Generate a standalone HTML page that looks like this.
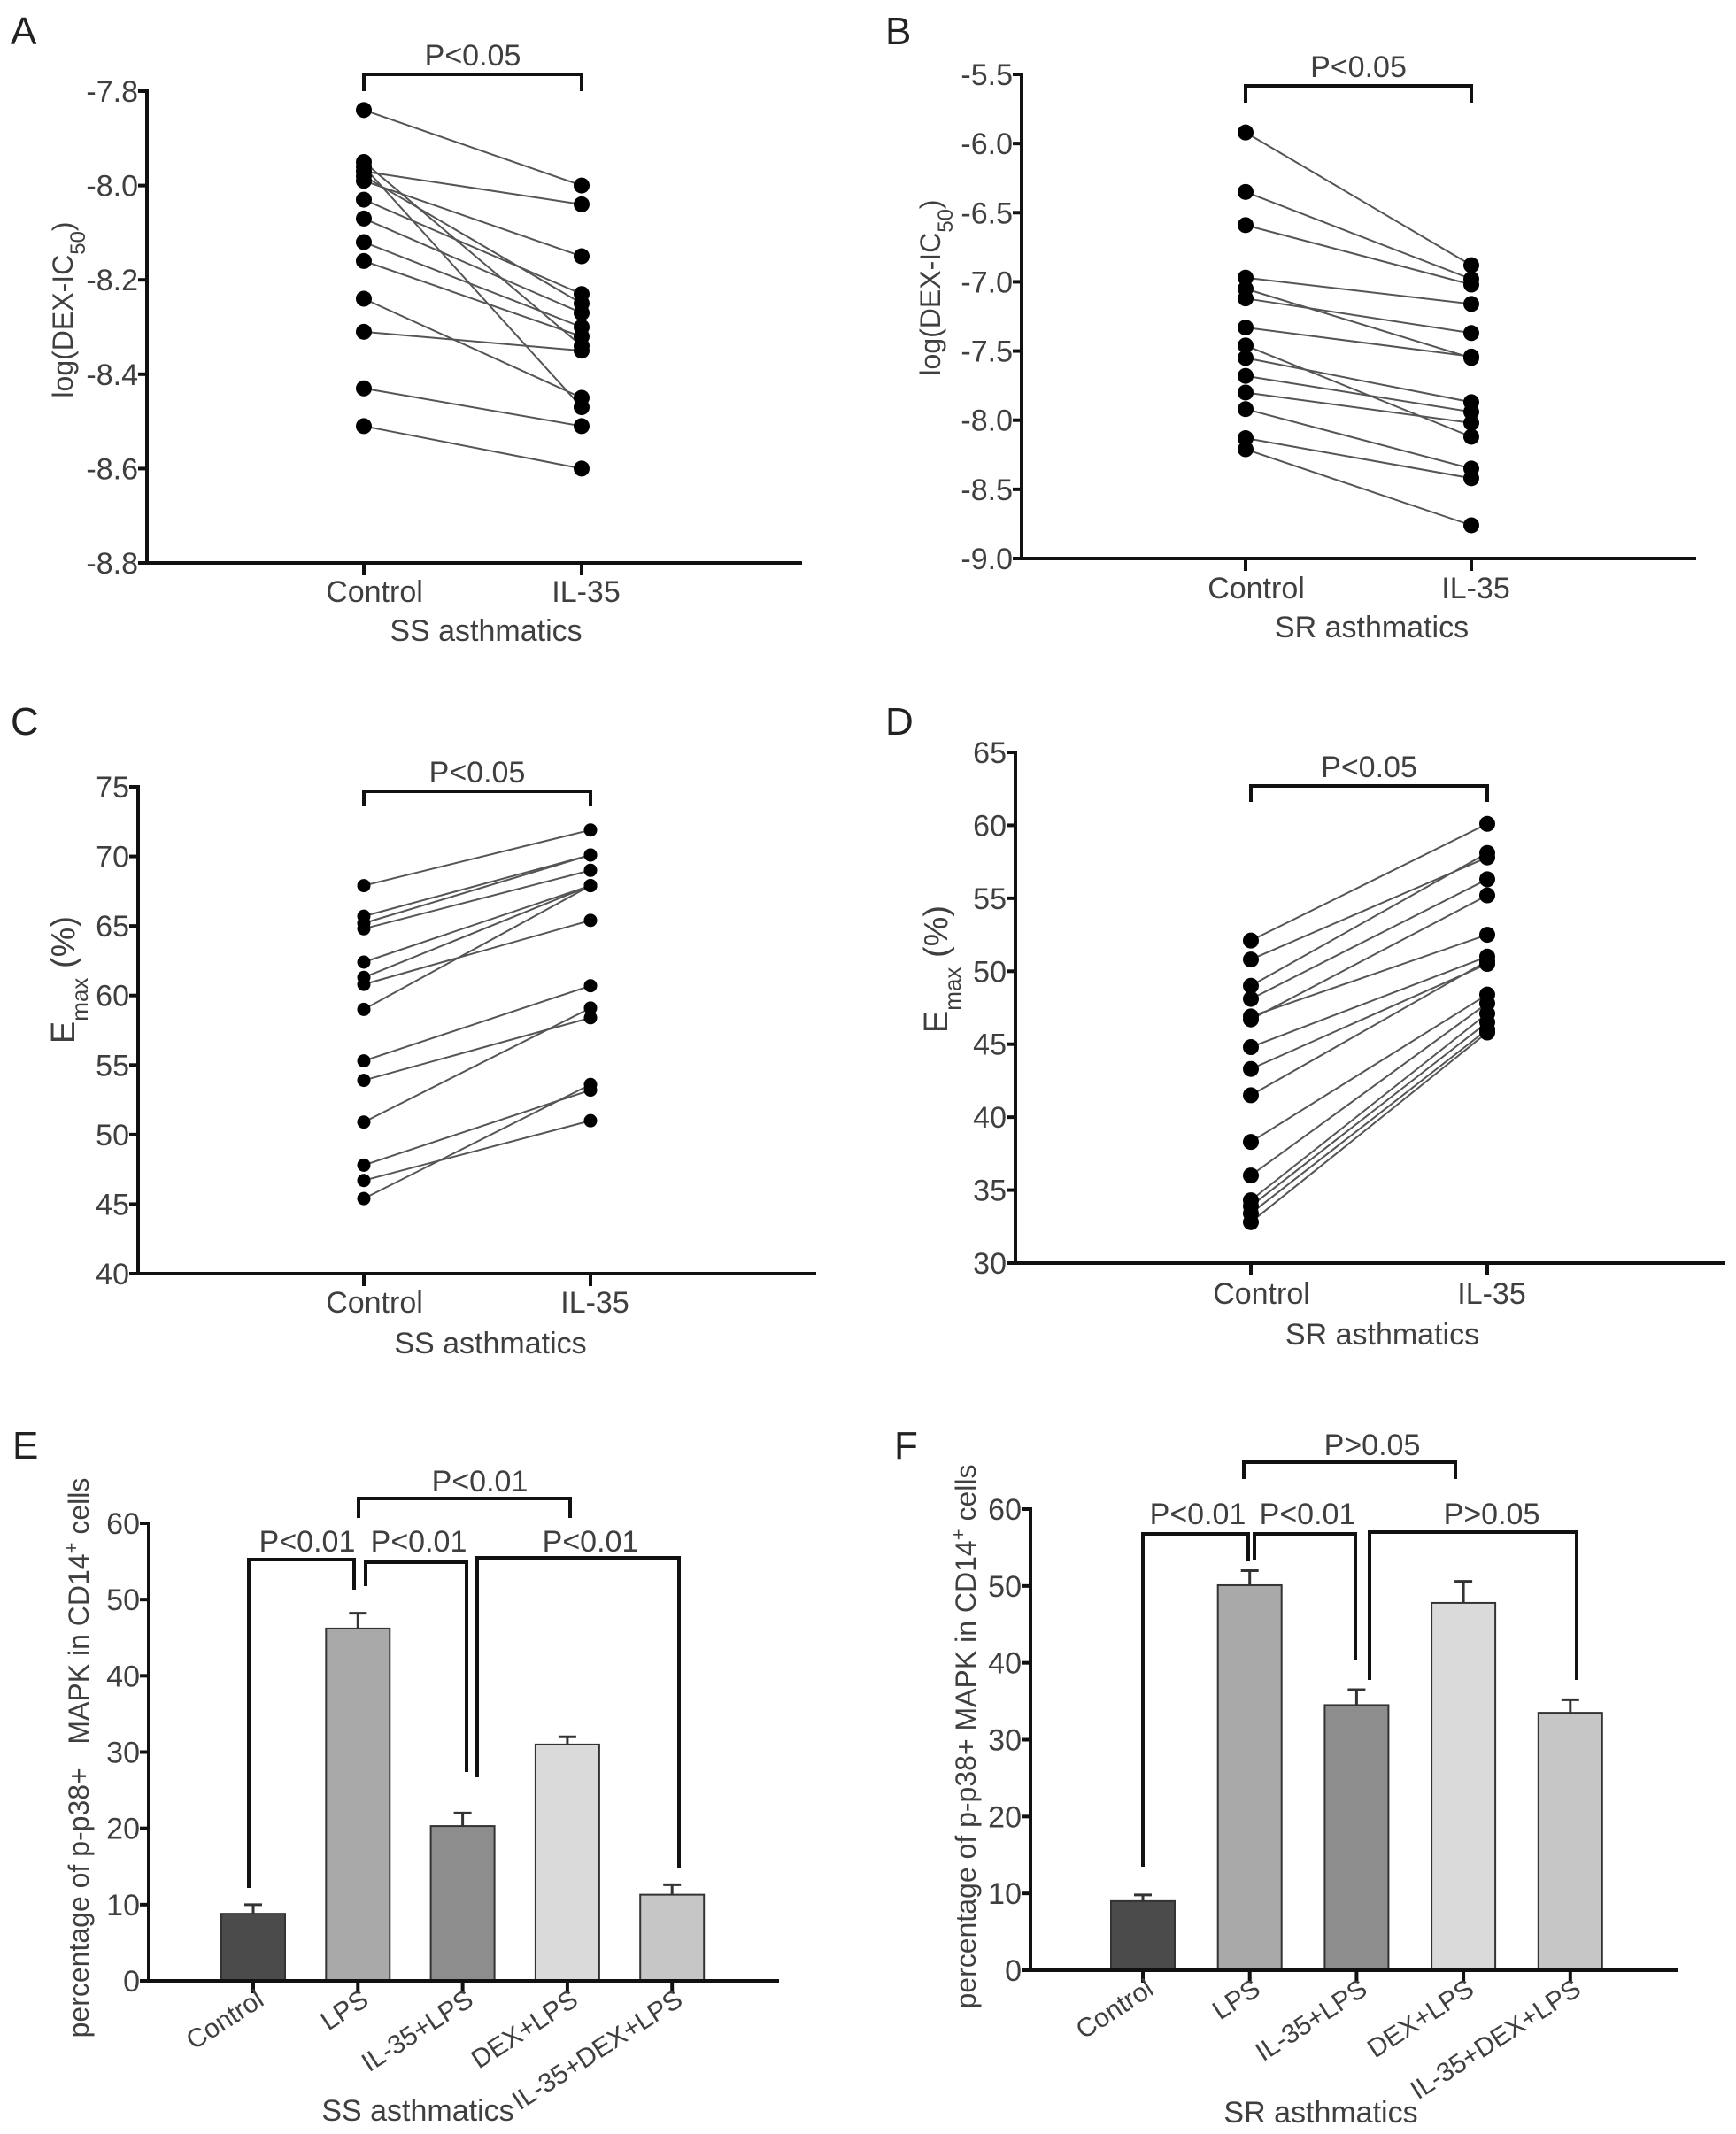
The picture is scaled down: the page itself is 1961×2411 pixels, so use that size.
<!DOCTYPE html>
<html><head><meta charset="utf-8"><style>
html,body{margin:0;padding:0;background:#fff;}
svg{display:block;font-family:"Liberation Sans",Arial,sans-serif;}
</style></head><body>
<svg id="fig" width="1961" height="2411" viewBox="0 0 1961 2411" xmlns="http://www.w3.org/2000/svg"></svg>
<script>
// ---- Panel A data (SS asthmatics, log DEX-IC50)
const aControl=[-7.84,-7.97,-7.95,-7.96,-7.98,-7.99,-8.03,-8.07,-8.12,-8.16,-8.24,-8.31,-8.43,-8.51];
const aIL35=[-8.00,-8.04,-8.34,-8.47,-8.25,-8.15,-8.23,-8.27,-8.30,-8.32,-8.45,-8.35,-8.51,-8.60];
const aTicks=[-7.8,-8.0,-8.2,-8.4,-8.6,-8.8];
// ---- Panel B data (SR asthmatics, log DEX-IC50)
const bControl=[-5.92,-6.35,-6.59,-6.97,-7.05,-7.12,-7.33,-7.46,-7.55,-7.68,-7.80,-7.92,-8.13,-8.21];
const bIL35=[-6.88,-6.98,-7.02,-7.16,-7.55,-7.37,-7.54,-8.12,-7.87,-7.94,-8.02,-8.35,-8.42,-8.76];
const bTicks=[-5.5,-6.0,-6.5,-7.0,-7.5,-8.0,-8.5,-9.0];
// ---- Panel C data (SS asthmatics, Emax)
const cControl=[67.9,65.7,65.2,64.8,62.4,61.3,60.8,59.0,55.3,53.9,50.9,47.8,46.7,45.4];
const cIL35=[71.9,70.1,70.1,69.0,67.9,67.9,65.4,67.9,60.7,58.4,59.1,53.2,51.0,53.6];
const cTicks=[75,70,65,60,55,50,45,40];
// ---- Panel D data (SR asthmatics, Emax)
const dControl=[52.1,50.8,49.0,48.1,46.7,46.9,44.8,43.3,41.5,38.3,36.0,34.3,33.9,33.4,32.8];
const dIL35=[60.1,57.8,58.1,56.3,55.2,52.5,51.0,50.5,50.7,48.4,47.8,47.1,46.5,46.0,45.8];
const dTicks=[65,60,55,50,45,40,35,30];
// ---- Panel E / F bar data
const barCats=["Control","LPS","IL-35+LPS","DEX+LPS","IL-35+DEX+LPS"];
const eMeans=[8.8,46.2,20.3,31.0,11.3];
const eErr=[1.2,2.0,1.7,1.0,1.3];
const fMeans=[9.0,50.1,34.5,47.8,33.5];
const fErr=[0.8,1.9,2.0,2.8,1.7];
const barTicks=[0,10,20,30,40,50,60];
const barColors=["#4b4b4b","#a9a9a9","#8d8d8d","#dadada","#c6c6c6"];

const svg=document.getElementById('fig');
const NS="http://www.w3.org/2000/svg";
const TXT="#3f3f3f";
function el(tag,attrs,parent){const e=document.createElementNS(NS,tag);for(const k in attrs)e.setAttribute(k,attrs[k]);(parent||svg).appendChild(e);return e;}
function txt(s,x,y,size,anchor,parent,extra){const t=el('text',Object.assign({x:x,y:y,'font-size':size,'text-anchor':anchor||'middle',fill:TXT},extra||{}),parent);t.textContent=s;return t;}

function scatterPanel(cfg){
  const g=el('g',{});
  
  
  const y=v=>cfg.y0+(v-cfg.v0)/(cfg.v1-cfg.v0)*(cfg.y1-cfg.y0);
  const yb=cfg.y1;
  const L=txt(cfg.letter,cfg.lx,cfg.ly,44,'start',g,{fill:'#222'});
  
  
  const ya=el('line',{x1:cfg.ax,y1:y(cfg.ticks[0])-2,x2:cfg.ax,y2:yb+2,stroke:'#111','stroke-width':4},g);
  
  
  const xa=el('line',{x1:cfg.ax-2,y1:yb,x2:cfg.xend,y2:yb,stroke:'#111','stroke-width':4},g);
  
  
  cfg.ticks.forEach(v=>{
    el('line',{x1:cfg.ax-10,y1:y(v),x2:cfg.ax,y2:y(v),stroke:'#111','stroke-width':4},g);
    const t=txt(cfg.fmt(v),cfg.ax-10,y(v)+12,34,'end',g);
    
    
  });
  [cfg.xc,cfg.xi].forEach(x=>el('line',{x1:x,y1:yb,x2:x,y2:yb+14,stroke:'#111','stroke-width':4},g));
  const t1=txt('Control',cfg.xc+12,cfg.lab1,34,'middle',g);
  
  
  const t2=txt('IL-35',cfg.xi+5,cfg.lab1,34,'middle',g);
  
  
  const xt=txt(cfg.xtitle,(cfg.xc+cfg.xi)/2+15,cfg.lab2,34,'middle',g);
  
  
  const yt=el('text',{transform:`translate(${cfg.ytx},${cfg.yty}) rotate(-90)`,'text-anchor':'middle','font-size':cfg.ytSize||32,fill:TXT},g);
  
  
  yt.innerHTML=cfg.ytitle;
  const br=el('path',{d:`M${cfg.xc},${cfg.bb} V${cfg.bt} H${cfg.xi} V${cfg.bb}`,fill:'none',stroke:'#111','stroke-width':4},g);
  
  
  const pt=txt('P<0.05',(cfg.xc+cfg.xi)/2,cfg.bt-10,34,'middle',g);
  
  
  cfg.c.forEach((cv,i)=>{
    const ln=el('line',{x1:cfg.xc,y1:y(cv),x2:cfg.xi,y2:y(cfg.i[i]),stroke:'#555','stroke-width':2},g);
    
    
  });
  cfg.c.forEach((cv,i)=>{
    const p1=el('circle',{cx:cfg.xc,cy:y(cv),r:cfg.r,fill:'#000'},g);
    
    
    const p2=el('circle',{cx:cfg.xi,cy:y(cfg.i[i]),r:cfg.r,fill:'#000'},g);
    
    
  });
}
const f1=v=>v.toFixed(1), f0=v=>String(v);
const logT='log(DEX-IC<tspan baseline-shift="sub" font-size="24">50</tspan>)';
const emT='E<tspan baseline-shift="sub" font-size="26">max</tspan> (%)';
scatterPanel({name:'panel-a',letter:'A',lx:12,ly:50,ax:166,xend:906,v0:-7.8,y0:103,v1:-8.8,y1:636,ticks:aTicks,fmt:f1,xc:411,xi:657,lab1:680,lab2:724,xtitle:'SS asthmatics',ytx:82,yty:350,ytitle:logT,bt:84,bb:103,c:aControl,i:aIL35,r:9});
scatterPanel({name:'panel-b',letter:'B',lx:1000,ly:50,ax:1154,xend:1916,v0:-5.5,y0:84,v1:-9.0,y1:631,ticks:bTicks,fmt:f1,xc:1407,xi:1662,lab1:676,lab2:720,xtitle:'SR asthmatics',ytx:1062,yty:325,ytitle:logT,bt:97,bb:116,c:bControl,i:bIL35,r:9});
scatterPanel({name:'panel-c',letter:'C',lx:12,ly:830,ax:156,xend:922,v0:75,y0:889,v1:40,y1:1439,ticks:cTicks,fmt:f0,xc:411,xi:667,lab1:1483,lab2:1529,xtitle:'SS asthmatics',ytx:84,yty:1107,ytitle:emT,ytSize:38,bt:894,bb:911,c:cControl,i:cIL35,r:7.5});
scatterPanel({name:'panel-d',letter:'D',lx:1000,ly:830,ax:1147,xend:1949,v0:65,y0:850,v1:30,y1:1427,ticks:dTicks,fmt:f0,xc:1413,xi:1680,lab1:1473,lab2:1519,xtitle:'SR asthmatics',ytx:1070,yty:1095,ytitle:emT,ytSize:38,bt:888,bb:906,c:dControl,i:dIL35,r:9});

function barPanel(cfg){
  const g=el('g',{});
  
  
  const y=v=>cfg.y0+(v/60)*(cfg.y60-cfg.y0);
  const L=txt(cfg.letter,cfg.lx,cfg.ly,44,'start',g,{fill:'#222'});
  
  
  const ya=el('line',{x1:cfg.ax,y1:y(60)-2,x2:cfg.ax,y2:cfg.y0+2,stroke:'#111','stroke-width':4},g);
  
  
  barTicks.forEach(v=>{
    el('line',{x1:cfg.ax-10,y1:y(v),x2:cfg.ax,y2:y(v),stroke:'#111','stroke-width':4},g);
    const t=txt(String(v),cfg.ax-10,y(v)+12,34,'end',g);
    
    
  });
  const bx=i=>cfg.bx0+i*cfg.step;
  cfg.means.forEach((m,i)=>{
    const x=bx(i);
    const eb=el('path',{d:`M${x},${y(m)} V${y(m+cfg.err[i])} M${x-10},${y(m+cfg.err[i])} H${x+10}`,stroke:'#333','stroke-width':3,fill:'none'},g);
    
    
    const r=el('rect',{x:x-36,y:y(m),width:72,height:y(0)-y(m),fill:barColors[i],stroke:'#333','stroke-width':2},g);
    
    
    el('line',{x1:x,y1:cfg.y0,x2:x,y2:cfg.y0+14,stroke:'#111','stroke-width':4},g);
    const t=el('text',{transform:`translate(${x+14},${cfg.y0+26}) rotate(-33)`,'text-anchor':'end','font-size':30,fill:TXT},g);
    t.textContent=barCats[i];
    
    
  });
  const xa=el('line',{x1:cfg.ax-2,y1:cfg.y0,x2:cfg.xend,y2:cfg.y0,stroke:'#111','stroke-width':4},g);
  
  
  const yt=el('text',{transform:`translate(${cfg.ytx},${cfg.yty}) rotate(-90)`,'text-anchor':'middle','font-size':32,fill:TXT},g);
  yt.innerHTML=cfg.ytitle;
  
  
  const xt=txt(cfg.xtitle,cfg.xtx,cfg.xty,34,'middle',g);
  
  
  cfg.brackets.forEach(b=>{
    const p=el('path',{d:`M${b[0]},${b[3]} V${b[2]} H${b[1]} V${b[4]}`,fill:'none',stroke:'#111','stroke-width':4},g);
    
    
    const t=txt(b[5],b[6],b[7],34,'middle',g);
    
    
  });
}
barPanel({name:'panel-e',letter:'E',lx:14,ly:1648,ax:168,xend:880,y0:2238,y60:1721,bx0:286,step:118.3,means:eMeans,err:eErr,
  ytx:100,yty:1986,ytitle:'percentage of p-p38+&#160;&#160;&#160;MAPK in CD14<tspan baseline-shift="super" font-size="22">+</tspan> cells',
  xtitle:'SS asthmatics',xtx:472,xty:2396,
  brackets:[[405,644,1693,1715,1715,'P<0.01',542,1685],
            [281,400,1762,2133,1796,'P<0.01',347,1753],
            [413,527,1765,1792,2002,'P<0.01',473,1753],
            [539,767,1760,2008,2111,'P<0.01',667,1753]]});
barPanel({name:'panel-f',letter:'F',lx:1010,ly:1648,ax:1164,xend:1896,y0:2226,y60:1705,bx0:1291,step:120.7,means:fMeans,err:fErr,
  ytx:1102,yty:1962,ytitle:'percentage of p-p38+ MAPK in CD14<tspan baseline-shift="super" font-size="22">+</tspan> cells',
  xtitle:'SR asthmatics',xtx:1492,xty:2398,
  brackets:[[1405,1644,1652,1671,1671,'P>0.05',1550,1644],
            [1291,1410,1733,2109,1764,'P<0.01',1353,1722],
            [1417,1531,1733,1762,1875,'P<0.01',1477,1722],
            [1547,1781,1731,1898,1898,'P>0.05',1685,1722]]});
</script>
</body></html>
